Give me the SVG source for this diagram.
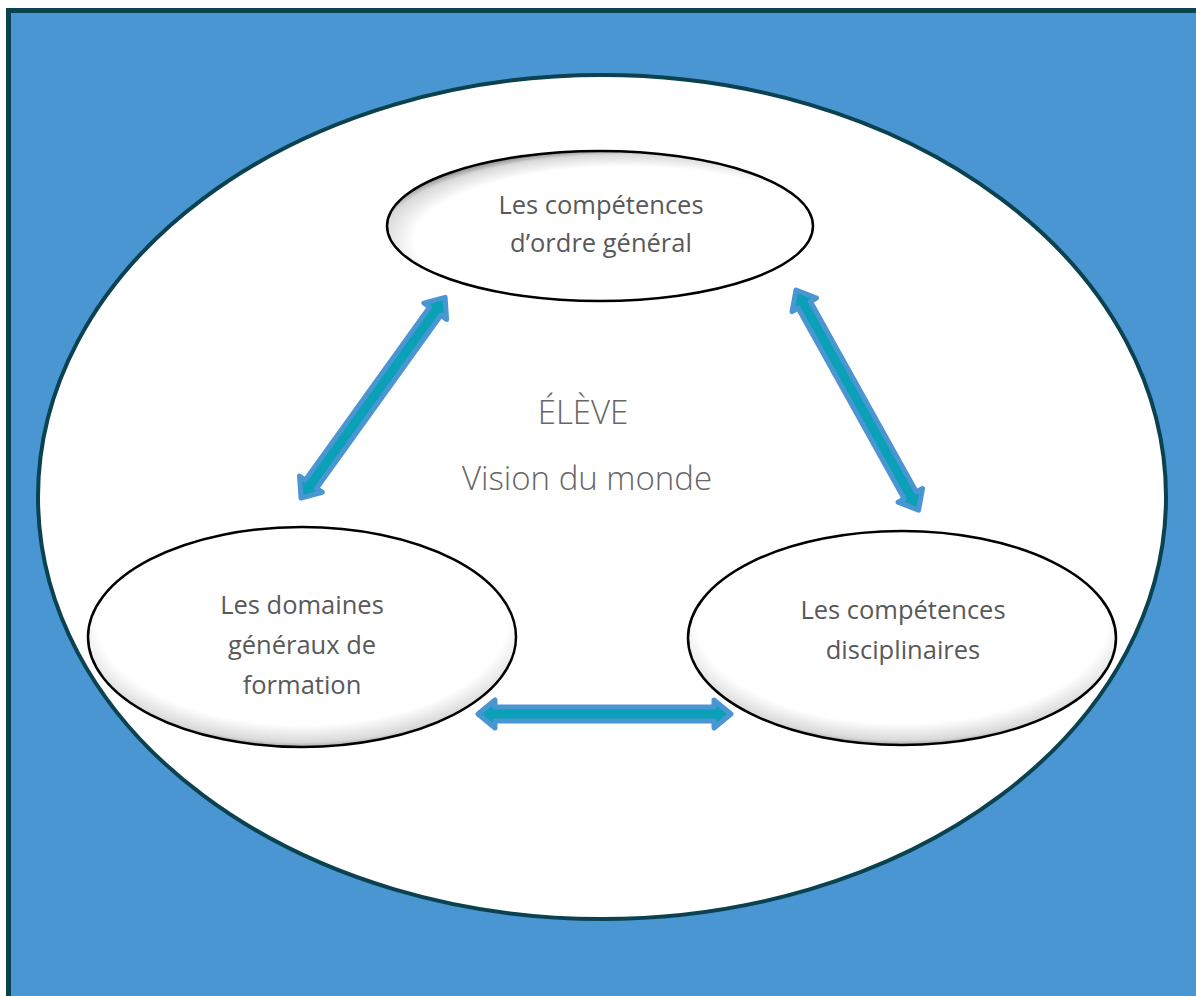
<svg xmlns="http://www.w3.org/2000/svg" width="1196" height="996" viewBox="0 0 1196 996">
<style>
.node{stroke:#000;stroke-width:2.5}
.lbl{font-family:"Open Sans","Liberation Sans",sans-serif;font-size:25.5px;fill:#595959;text-anchor:middle}
.ctr{font-family:"Open Sans","Liberation Sans",sans-serif;font-weight:300;font-size:33px;fill:#666;text-anchor:middle}
.arrow{fill:#0AA0B8;stroke:#4A96D2;stroke-width:5;stroke-linejoin:round}
</style>
<defs>
<radialGradient id="shTop" cx="0.56" cy="0.6" r="0.62">
<stop offset="0.8" stop-color="#fff"/>
<stop offset="0.93" stop-color="#d9d9d9"/>
<stop offset="1" stop-color="#7f7f7f"/>
</radialGradient>
<radialGradient id="shBot" cx="0.5" cy="0.42" r="0.6">
<stop offset="0.8" stop-color="#fff"/>
<stop offset="0.93" stop-color="#d9d9d9"/>
<stop offset="1" stop-color="#7f7f7f"/>
</radialGradient>
</defs>
<rect id="background" x="8.5" y="10.5" width="1200" height="1000" fill="#4A96D2" stroke="#0B4250" stroke-width="5"/>
<g id="eleve">
<ellipse cx="602" cy="497" rx="564" ry="422" fill="#fff" stroke="#0B4250" stroke-width="4"/>
<text class="ctr" x="583" y="424">ÉLÈVE</text>
<text class="ctr" x="587" y="490">Vision du monde</text>
</g>
<g id="node-general">
<ellipse class="node" cx="600" cy="226" rx="213" ry="75" fill="url(#shTop)"/>
<text class="lbl" x="601" y="214">Les compétences</text>
<text class="lbl" x="601" y="252">d’ordre général</text>
</g>
<g id="node-domaines">
<ellipse class="node" cx="302" cy="637" rx="214" ry="110" fill="url(#shBot)"/>
<text class="lbl" x="302" y="614">Les domaines</text>
<text class="lbl" x="302" y="654">généraux de</text>
<text class="lbl" x="302" y="694">formation</text>
</g>
<g id="node-disciplinaires">
<ellipse class="node" cx="902" cy="638" rx="214" ry="107" fill="url(#shBot)"/>
<text class="lbl" x="903" y="619">Les compétences</text>
<text class="lbl" x="903" y="659">disciplinaires</text>
</g>
<g id="connectors">
<polygon class="arrow" transform="translate(478,714)" points="0,0 17,-14 17,-7 236,-7 236,-14 253,0 236,14 236,7 17,7 17,14"/>
<polygon class="arrow" transform="translate(301,498) rotate(-54.3)" points="0,0 17,-14 17,-7 230,-7 230,-14 247,0 230,14 230,7 17,7 17,14"/>
<polygon class="arrow" transform="translate(796,290) rotate(60.9)" points="0,0 17,-14 17,-7 235,-7 235,-14 252,0 235,14 235,7 17,7 17,14"/>
</g>
</svg>
